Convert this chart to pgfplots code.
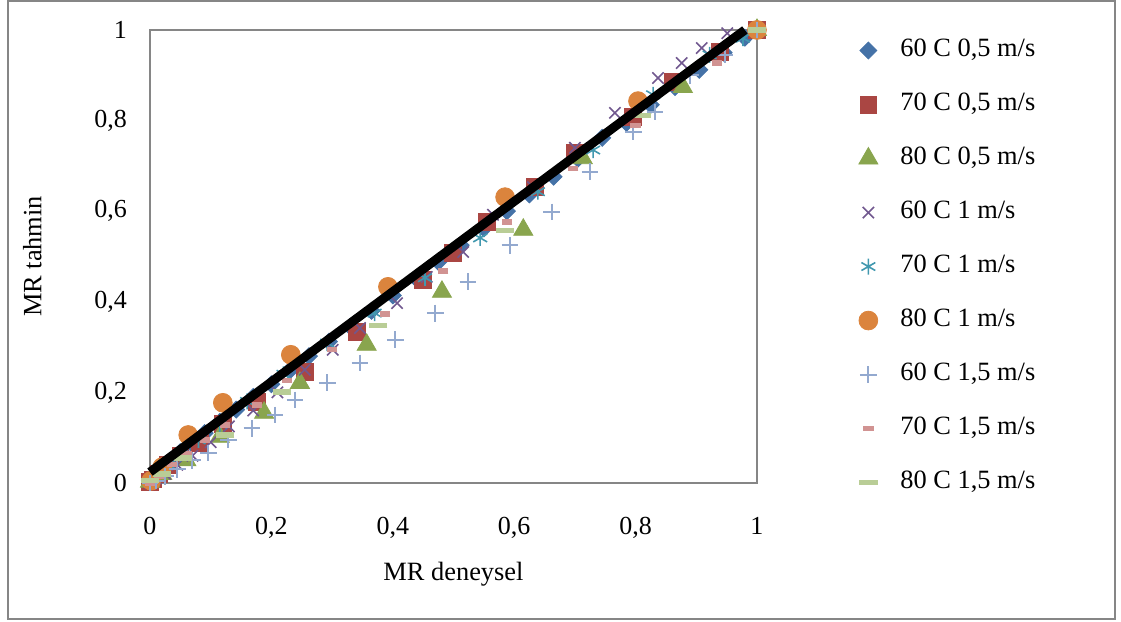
\documentclass[border=0pt]{standalone}
\usepackage{fontspec}
\setmainfont{Liberation Serif}
\usepackage{pgfplots}
\pgfplotsset{compat=1.18}
\definecolor{c1}{HTML}{4572A7}
\definecolor{c2}{HTML}{AA4643}
\definecolor{c3}{HTML}{89A54E}
\definecolor{c4}{HTML}{71588F}
\definecolor{c5}{HTML}{4198AF}
\definecolor{c6}{HTML}{DB843D}
\definecolor{c7}{HTML}{93A9CF}
\definecolor{c8}{HTML}{D19392}
\definecolor{c9}{HTML}{B9CD96}
\definecolor{fr}{HTML}{868686}
\begin{document}
\begin{tikzpicture}
\begin{axis}[
  set layers=standard,
  scale only axis, width=303.5pt, height=226.5pt,
  xmin=0, xmax=1, ymin=0, ymax=1,
  clip=false,
  axis line style={draw=fr, line width=0.7pt},
  xtick={0,0.2,0.4,0.6,0.8,1}, ytick={0,0.2,0.4,0.6,0.8,1},
  major tick length=0pt,
  /pgf/number format/use comma,
  /pgf/number format/assume math mode=true,
  tick label style={font=\fontsize{13}{15}\selectfont},
  xticklabel style={yshift=-13.5pt},
  yticklabel style={xshift=-8pt},
  label style={font=\fontsize{13.2}{15}\selectfont},
  xlabel={MR deneysel}, ylabel={MR tahmin},
  xlabel style={at={(axis description cs:0.5,-0.201)}, anchor=center},
  ylabel style={at={(axis description cs:-0.194,0.5)}, anchor=center},
  legend cell align=left,
  legend image code/.code={\path[draw=none,fill=none] (-9pt,-4pt) (9pt,4pt); \draw[#1] plot coordinates {(0pt,0pt)};},
  legend style={at={(axis description cs:1.1532,0.982)}, anchor=north west, draw=none, fill=none,
    inner sep=0pt, row sep=15pt, column sep=7pt,
    nodes={inner sep=0pt, text height=9pt, text depth=3pt},
    font=\fontsize{13.2}{15}\selectfont},
]
\addplot[only marks, mark=square*, mark size=3pt, mark options={rotate=45, fill=c1, draw=c1}] coordinates {
(0,0.005)(0.005,0.012)(0.012,0.022)(0.022,0.035)(0.035,0.05)(0.05,0.068)(0.068,0.088)(0.09,0.11)(0.115,0.135)(0.142,0.162)(0.17,0.19)(0.2,0.218)(0.23,0.248)(0.262,0.28)(0.295,0.312)(0.33,0.345)(0.365,0.38)(0.4,0.414)(0.438,0.452)(0.475,0.488)(0.512,0.525)(0.55,0.562)(0.588,0.6)(0.625,0.637)(0.665,0.676)(0.705,0.716)(0.745,0.762)(0.785,0.795)(0.825,0.835)(0.865,0.874)(0.905,0.912)(0.945,0.95)(0.98,0.983)(1,1)};
\addlegendentry{60 C 0,5 m/s}
\addplot[only marks, mark=square*, mark size=4.2pt, mark options={fill=c2, draw=c2}] coordinates {
(1,1)(0.939,0.951)(0.862,0.885)(0.796,0.808)(0.70,0.728)(0.634,0.653)(0.555,0.576)(0.499,0.508)(0.45,0.448)(0.341,0.333)(0.255,0.245)(0.176,0.179)(0.12,0.13)(0.082,0.088)(0.05,0.06)(0.03,0.04)(0.015,0.02)(0.005,0.008)(0,0.002)};
\addlegendentry{70 C 0,5 m/s}
\addplot[only marks, mark=triangle*, mark size=5.5pt, mark options={fill=c3, draw=c3}] coordinates {
(1,1)(0.878,0.874)(0.713,0.717)(0.615,0.559)(0.481,0.422)(0.357,0.305)(0.247,0.221)(0.188,0.155)(0.115,0.102)(0.06,0.05)(0.02,0.02)(0,0.003)};
\addlegendentry{80 C 0,5 m/s}
\addplot[only marks, mark=x, mark size=4pt, mark options={draw=c4, line width=0.8pt}] coordinates {
(1,1)(0.951,0.993)(0.909,0.96)(0.876,0.927)(0.837,0.894)(0.766,0.817)(0.70,0.74)(0.631,0.653)(0.565,0.592)(0.516,0.51)(0.456,0.455)(0.407,0.397)(0.346,0.342)(0.301,0.294)(0.255,0.25)(0.21,0.2)(0.17,0.16)(0.13,0.125)(0.1,0.09)(0.07,0.06)(0.045,0.04)(0.025,0.02)(0.01,0.01)(0,0)};
\addlegendentry{60 C 1 m/s}
\addplot[only marks, mark=asterisk, mark size=4pt, mark options={draw=c5, line width=0.8pt}] coordinates {
(1,1)(0.977,0.982)(0.922,0.945)(0.829,0.857)(0.73,0.735)(0.639,0.643)(0.544,0.541)(0.453,0.453)(0.37,0.375)(0.292,0.309)(0.22,0.24)(0.16,0.18)(0.115,0.13)(0.08,0.095)(0.05,0.065)(0.03,0.04)(0.015,0.02)(0,0.005)};
\addlegendentry{70 C 1 m/s}
\addplot[only marks, mark=*, mark size=4.7pt, mark options={fill=c6, draw=c6}] coordinates {
(1,1)(0.804,0.843)(0.585,0.631)(0.392,0.433)(0.232,0.283)(0.12,0.177)(0.063,0.106)(0.02,0.035)(0.002,0.005)};
\addlegendentry{80 C 1 m/s}
\addplot[only marks, mark=+, mark size=4.2pt, mark options={draw=c7, line width=1pt}] coordinates {
(1,1)(0.947,0.945)(0.89,0.9)(0.832,0.819)(0.796,0.775)(0.725,0.687)(0.662,0.598)(0.593,0.525)(0.524,0.444)(0.47,0.375)(0.404,0.316)(0.346,0.265)(0.292,0.221)(0.239,0.183)(0.206,0.15)(0.168,0.121)(0.129,0.095)(0.096,0.066)(0.07,0.05)(0.045,0.03)(0.025,0.015)(0.01,0.005)(0,0)};
\addlegendentry{60 C 1,5 m/s}
\addplot[only marks, mark=-, mark size=2.6pt, mark options={draw=c8, line width=2.6pt}] coordinates {
(1,1)(0.934,0.927)(0.80,0.79)(0.697,0.695)(0.588,0.576)(0.483,0.468)(0.387,0.373)(0.3,0.294)(0.226,0.227)(0.176,0.172)(0.124,0.128)(0.091,0.095)(0.06,0.065)(0.036,0.04)(0.015,0.015)(0,0)};
\addlegendentry{70 C 1,5 m/s}
\addplot[only marks, mark=-, mark size=4.6pt, mark options={draw=c9, line width=2.6pt}] coordinates {
(1,1)(0.81,0.812)(0.585,0.558)(0.376,0.347)(0.217,0.201)(0.124,0.106)(0.054,0.055)(0.02,0.02)(0,0.005)};
\addlegendentry{80 C 1,5 m/s}
\addplot[black, line width=4.5pt, forget plot, on layer=axis foreground] coordinates {(0,0.024) (0.98,1)};
\path (axis cs:-0.2471,-0.3068) rectangle (axis cs:1.5997,1.0662);
\draw[fr, line width=1pt] (axis cs:-0.2339,-0.3002) rectangle (axis cs:1.5898,1.0629);
\end{axis}
\end{tikzpicture}
\end{document}
